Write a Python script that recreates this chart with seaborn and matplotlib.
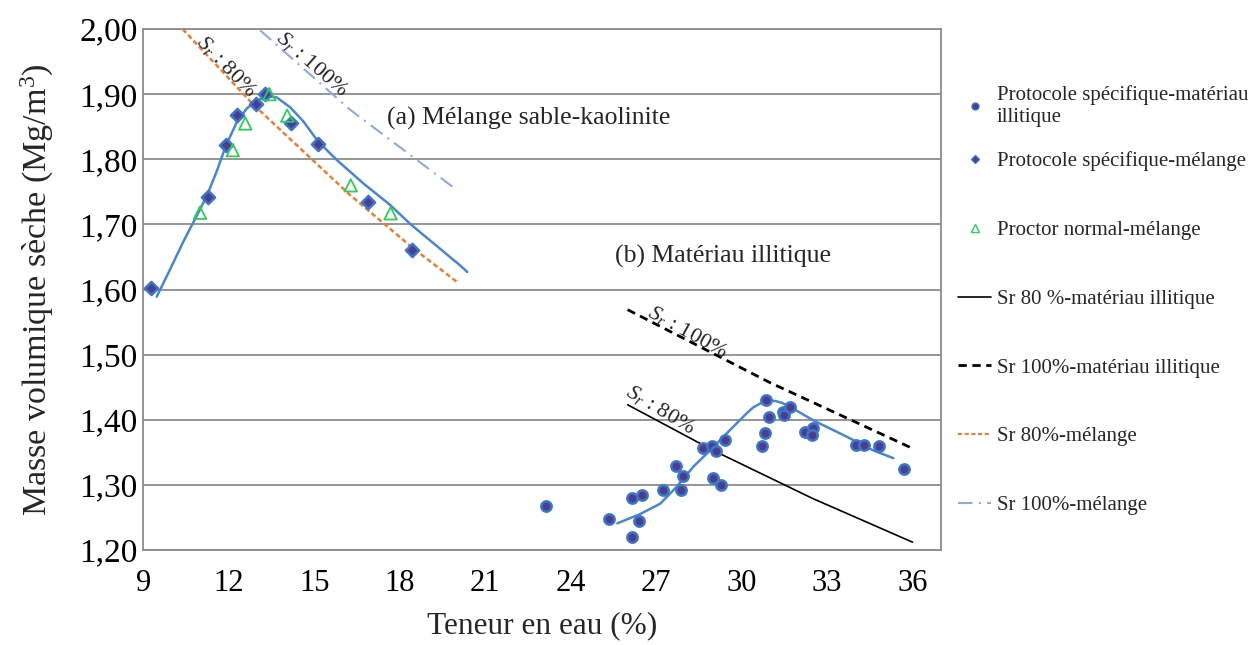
import numpy as np
import pandas as pd
import matplotlib
matplotlib.use("Agg")
import matplotlib.pyplot as plt
import seaborn as sns
from matplotlib.ticker import MultipleLocator, FuncFormatter
from matplotlib.lines import Line2D

# protocole specifique - materiau illitique (points)
w_ill = [23.12, 25.35, 26.16, 26.49, 26.40, 26.16, 27.25, 27.70, 27.95, 27.87,
         28.66, 28.96, 29.10, 28.99, 29.29, 29.43, 30.73, 30.82, 30.86, 30.96,
         31.45, 31.49, 31.70, 32.23, 32.50, 32.48, 34.03, 34.29, 34.81, 35.69]
rho_ill = [1.267, 1.247, 1.280, 1.285, 1.244, 1.220, 1.292, 1.329, 1.314, 1.292,
           1.357, 1.360, 1.352, 1.310, 1.300, 1.369, 1.359, 1.379, 1.430, 1.404,
           1.412, 1.407, 1.420, 1.381, 1.387, 1.377, 1.361, 1.361, 1.359, 1.324]

# protocole specifique - melange
w_mel = [9.26, 11.26, 11.90, 12.28, 12.96, 13.28, 14.17, 15.14, 16.89, 18.44]
rho_mel = [1.603, 1.742, 1.822, 1.868, 1.885, 1.900, 1.855, 1.823, 1.734, 1.661]

# proctor normal - melange
w_proc = [10.99, 12.14, 12.58, 13.42, 14.05, 16.28, 17.68]
rho_proc = [1.718, 1.814, 1.855, 1.900, 1.867, 1.760, 1.717]

# courbes de tendance
w_fit_mel = [9.47, 9.94, 10.41, 10.99, 11.26, 11.58, 11.90, 12.28, 12.63,
             12.96, 13.33, 13.68, 14.15, 14.62, 15.14, 15.79, 16.72, 17.66,
             18.36, 20.12, 20.37]
rho_fit_mel = [1.589, 1.631, 1.674, 1.723, 1.747, 1.782, 1.821, 1.857, 1.878,
               1.889, 1.897, 1.895, 1.880, 1.858, 1.827, 1.799, 1.763, 1.730,
               1.701, 1.637, 1.627]
w_fit_ill = [25.64, 26.43, 27.14, 27.72, 28.31, 29.01, 29.59, 30.18, 30.41,
             30.70, 30.94, 31.17, 31.41, 31.70, 32.05, 32.52, 33.69, 34.62,
             35.33]
rho_fit_ill = [1.241, 1.255, 1.271, 1.297, 1.328, 1.358, 1.384, 1.410, 1.419,
               1.426, 1.429, 1.429, 1.426, 1.420, 1.411, 1.399, 1.374, 1.353,
               1.341]

# courbes de saturation
w_sr80_ill = [26.0, 29.0, 32.5, 36.0]
rho_sr80_ill = [1.423, 1.353, 1.279, 1.212]
w_sr100_ill = [26.0, 31.0, 36.0]
rho_sr100_ill = [1.569, 1.457, 1.356]
w_sr80_mel = [10.38, 12.86, 16.26, 18.48, 20.0]
rho_sr80_mel = [2.000, 1.884, 1.745, 1.663, 1.612]
w_sr100_mel = [13.10, 16.26, 20.0]
rho_sr100_mel = [1.998, 1.876, 1.753]

labels = ["Protocole spécifique-matériau\nillitique",
          "Protocole spécifique-mélange",
          "Proctor normal-mélange",
          "Sr 80 %-matériau illitique",
          "Sr 100%-matériau illitique",
          "Sr 80%-mélange",
          "Sr 100%-mélange"]

sns.set_theme(style="white")
plt.rcParams["font.family"] = ["Liberation Serif", "DejaVu Serif"]
plt.rcParams["mathtext.fontset"] = "custom"
plt.rcParams["mathtext.rm"] = "Liberation Serif"
plt.rcParams["mathtext.it"] = "Liberation Serif:italic"

pt_face = "#4a3f8f"
pt_edge = "#3d75c9"
fit_col = "#4a86d0"
orange = "#ed7d31"
lblue = "#8eaadc"
green = "#2fcc5a"
grey = "#8c8c8c"

fig = plt.figure(figsize=(12.54, 6.45), dpi=100)
ax = fig.add_axes([0.1143, 0.1473, 0.6361, 0.8077])

# saturation lines
sns.lineplot(x=w_sr80_mel, y=rho_sr80_mel, ax=ax, color=orange, lw=1.8,
             linestyle=(0, (2, 1.2)), sort=False, estimator=None)
sns.lineplot(x=w_sr100_mel, y=rho_sr100_mel, ax=ax, color=lblue, lw=1.5,
             linestyle=(0, (7, 3, 1, 3)), sort=False, estimator=None)
sns.lineplot(x=w_sr80_ill, y=rho_sr80_ill, ax=ax, color="black", lw=1.2,
             sort=False, estimator=None)
sns.lineplot(x=w_sr100_ill, y=rho_sr100_ill, ax=ax, color="black", lw=2.0,
             linestyle=(0, (3, 2)), sort=False, estimator=None)

# trend curves
sns.lineplot(x=w_fit_mel, y=rho_fit_mel, ax=ax, color=fit_col, lw=1.8,
             sort=False, estimator=None)
sns.lineplot(x=w_fit_ill, y=rho_fit_ill, ax=ax, color=fit_col, lw=1.8,
             sort=False, estimator=None)

# points
sns.scatterplot(x=w_ill, y=rho_ill, ax=ax, marker="o", s=55, color=pt_face,
                edgecolor=pt_edge, linewidth=1.8, zorder=5)
sns.scatterplot(x=w_mel, y=rho_mel, ax=ax, marker="D", s=45, color=pt_face,
                edgecolor=pt_edge, linewidth=1.8, zorder=5)
sns.scatterplot(x=w_proc, y=rho_proc, ax=ax, marker="^", s=80, facecolor="none",
                edgecolor=green, linewidth=1.3, zorder=5)

ax.set_xlim(9, 37)
ax.set_ylim(1.2, 2.0)
ax.xaxis.set_major_locator(MultipleLocator(3))
ax.xaxis.set_minor_locator(MultipleLocator(1))
ax.yaxis.set_major_locator(MultipleLocator(0.1))
ax.yaxis.set_minor_locator(MultipleLocator(0.05))
ax.set_xticks([9, 12, 15, 18, 21, 24, 27, 30, 33, 36])
ax.yaxis.set_major_formatter(FuncFormatter(lambda v, p: f"{v:.2f}".replace(".", ",")))
ax.tick_params(axis="both", which="both", direction="in", colors=grey,
               labelcolor="black")
ax.tick_params(axis="x", which="major", length=9, width=1.2, pad=14, labelsize=22)
ax.tick_params(axis="x", which="minor", length=6, width=1.2)
ax.tick_params(axis="y", which="major", length=8, width=1.2, pad=4, labelsize=24)
ax.tick_params(axis="y", which="minor", length=8, width=1.2)
ax.yaxis.grid(True, color=grey, lw=1.3)
ax.set_axisbelow(True)
for sp in ax.spines.values():
    sp.set_color(grey)
    sp.set_linewidth(1.3)

ax.set_xlabel("Teneur en eau (%)", fontsize=22.5, labelpad=9)
ax.set_ylabel("Masse volumique sèche (Mg/m$^3$)", fontsize=24.5, labelpad=17)

# annotations
ax.text(22.54, 1.863, "(a) Mélange sable-kaolinite", fontsize=18.5,
        ha="center", va="center")
ax.text(29.35, 1.650, "(b) Matériau illitique", fontsize=18.5,
        ha="center", va="center")
ax.text(11.9, 1.942, "$S_r$ : 80%", fontsize=16, rotation=-46,
        ha="center", va="center", rotation_mode="anchor")
ax.text(14.92, 1.946, "$S_r$ : 100%", fontsize=16, rotation=-41,
        ha="center", va="center", rotation_mode="anchor")
ax.text(28.10, 1.534, "$S_r$ : 100%", fontsize=16, rotation=-29,
        ha="center", va="center", rotation_mode="anchor")
ax.text(27.14, 1.415, "$S_r$ : 80%", fontsize=16, rotation=-31,
        ha="center", va="center", rotation_mode="anchor")

# legend
h_ill = Line2D([], [], marker="o", ls="none", markersize=5, color=pt_face,
               markeredgecolor=pt_edge)
h_mel = Line2D([], [], marker="D", ls="none", markersize=4.5, color=pt_face,
               markeredgecolor=pt_edge)
h_proc = Line2D([], [], marker="^", ls="none", markersize=6,
                markerfacecolor="none", markeredgecolor=green)
h_80i = Line2D([], [], color="black", lw=1.2)
h_100i = Line2D([], [], color="black", lw=2.0, linestyle=(0, (3, 2)))
h_80m = Line2D([], [], color=orange, lw=1.5, linestyle=(0, (2, 1.2)))
h_100m = Line2D([], [], color=lblue, lw=1.5, linestyle=(0, (7, 3, 1, 3)))

leg_kw = dict(frameon=False, fontsize=15, handlelength=1.6,
              handletextpad=0.25, borderaxespad=0, borderpad=0,
              loc="upper left")
leg1 = fig.legend([h_ill], [labels[0]], bbox_to_anchor=(0.764, 0.868),
                  labelspacing=0.3, **leg_kw)
leg2 = fig.legend([h_mel, h_proc, h_80i, h_100i, h_80m, h_100m], labels[1:],
                  bbox_to_anchor=(0.764, 0.765), labelspacing=2.36, **leg_kw)

fig.savefig("out.png", dpi=100)
